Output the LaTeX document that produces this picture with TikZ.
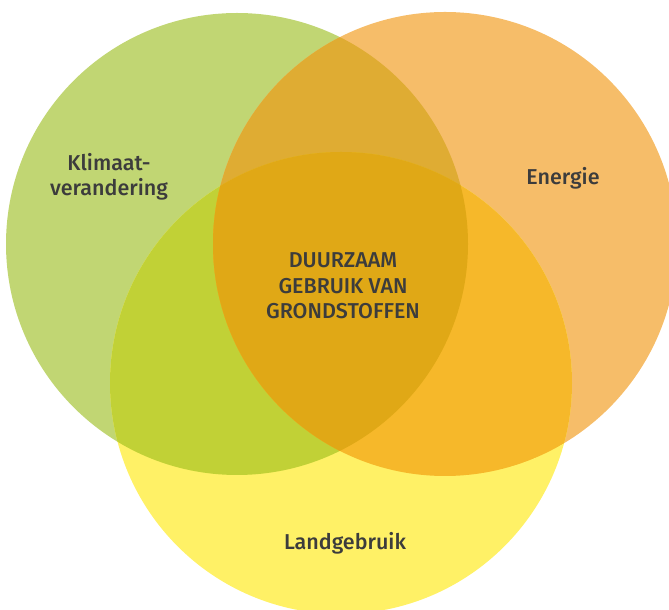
\documentclass[tikz,border=0pt]{standalone}
\usepackage{fontspec}
\setmainfont{Fira Sans}[BoldFont={Fira Sans Medium}]
\usepackage{tikz}

\definecolor{klimaat}{HTML}{C1D673}
\definecolor{energie}{HTML}{F6BD69}
\definecolor{land}{HTML}{FFF166}
\definecolor{klimaatenergie}{HTML}{DFAC33}
\definecolor{klimaatland}{HTML}{C1D136}
\definecolor{energieland}{HTML}{F6B82A}
\definecolor{midden}{HTML}{E0A816}
\definecolor{tekst}{HTML}{3C3C3C}

\begin{document}
\begin{tikzpicture}[x=1pt, y=1pt,
    label/.style={text=tekst, font=\fontsize{21.5}{25.5}\selectfont\bfseries, align=center}]
  \useasboundingbox (0,0) rectangle (669,610);
  \def\CircK{(237,366) circle (231)}
  \def\CircE{(445,366) circle (232)}
  \def\CircL{(341,383-156) circle (231)}
  \fill[klimaat] \CircK;
  \fill[energie] \CircE;
  \fill[land] \CircL;
  % overlaps
  \begin{scope}
    \clip \CircK;
    \fill[klimaatenergie] \CircE;
    \fill[klimaatland] \CircL;
    \clip \CircE;
    \fill[midden] \CircL;
  \end{scope}
  \begin{scope}
    \clip \CircE;
    \clip \CircL;
    \fill[energieland] \CircE;
    \clip \CircK;
    \fill[midden] \CircE;
  \end{scope}
  \node[label] (klimaat) at (109,433) {Klimaat-\\verandering};
  \node[label] (energie) at (563,432) {Energie};
  \node[label] (land) at (345,67) {Landgebruik};
  \node[label] (midden) at (343,324) {DUURZAAM\\GEBRUIK VAN\\GRONDSTOFFEN};
\end{tikzpicture}
\end{document}
